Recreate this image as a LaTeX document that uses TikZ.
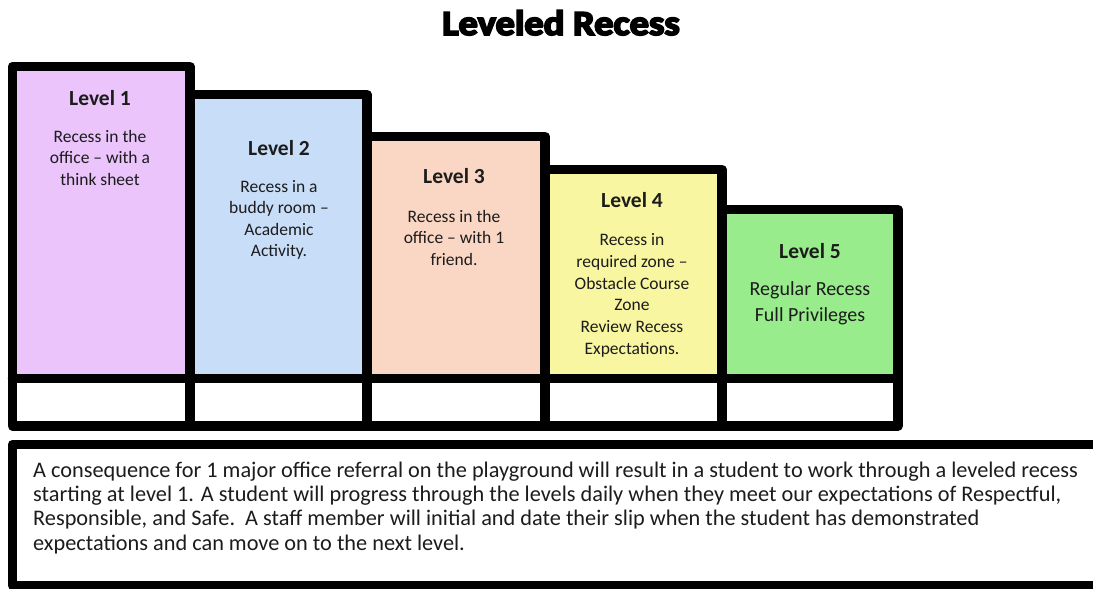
\documentclass[tikz,border=0pt]{standalone}
\usepackage{fontspec}
\setmainfont{Carlito}
\newfontfamily\titlefont[FakeBold=5]{Carlito Bold}
\definecolor{cLone}{RGB}{234,196,250}
\definecolor{cLtwo}{RGB}{200,221,248}
\definecolor{cLthree}{RGB}{250,214,196}
\definecolor{cLfour}{RGB}{248,246,160}
\definecolor{cLfive}{RGB}{152,236,140}
\definecolor{ink}{RGB}{28,28,28}
\tikzset{
  border/.style={draw=black, line width=9.5pt, line join=round, line cap=round},
  head/.style={anchor=base, inner sep=0pt, text=ink, font=\fontsize{21.5}{25}\selectfont\bfseries},
  body/.style={anchor=base, inner sep=0pt, align=center, text=ink, font=\fontsize{17.5}{21.3}\selectfont},
  para/.style={anchor=base west, inner sep=0pt, text=ink, font=\fontsize{22.3}{23.7}\selectfont},
}
\begin{document}
\begin{tikzpicture}[x=1pt,y=-1pt]
\useasboundingbox (0,0) rectangle (1093,589);
\clip (0,0) rectangle (1093,589);
\fill[white] (0,0) rectangle (1093,589);
% title
\node[anchor=base, inner sep=0pt] (title) at (561,35) {\scalebox{1.04}[0.95]{\titlefont\fontsize{37}{40}\selectfont Leveled Recess}};
% coloured fills
\fill[cLone]   (12.5,66.5)  rectangle (190,378.5);
\fill[cLtwo]   (190,94.5)   rectangle (367,378.5);
\fill[cLthree] (367,136.5)  rectangle (545,378.5);
\fill[cLfour]  (545,169.5)  rectangle (722,378.5);
\fill[cLfive]  (722,209.5)  rectangle (898,378.5);
% borders
\draw[border] (12.5,426) rectangle (190,66.5);
\draw[border] (190,426) rectangle (367,94.5);
\draw[border] (367,426) rectangle (545,136.5);
\draw[border] (545,426) rectangle (722,169.5);
\draw[border] (722,426) rectangle (898,209.5);
\draw[border] (12.5,378.5) -- (898,378.5);
% level texts (anchor = baseline of the last line)
\node[head] (h1) at (100,105) {Level 1};
\node[body] (b1) at (100,185.1) {Recess in the\\office – with a\\think sheet};
\node[head] (h2) at (279,155.6) {Level 2};
\node[body] (b2) at (279,256.5) {Recess in a\\buddy room –\\Academic\\Activity.};
\node[head] (h3) at (454,183.6) {Level 3};
\node[body] (b3) at (454,265.2) {Recess in the\\office – with 1\\friend.};
\node[head] (h4) at (632,207.6) {Level 4};
\node[body, font=\fontsize{17.5}{21.7}\selectfont] (b4) at (632,354.1) {Recess in\\required zone –\\Obstacle Course\\Zone\\Review Recess\\Expectations.};
\node[head] (h5) at (810,258.6) {Level 5};
\node[body, font=\fontsize{20}{26}\selectfont] (b5) at (810,321.4) {Regular Recess\\Full Privileges};
% bottom box
\draw[border] (12.5,585.5) rectangle (1120,444.5);
\node[para] (p1) at (33,477.5) {A consequence for 1 major office referral on the playground will result in a student to work through a leveled recess};
\node[para] (p2) at (33,501.7) {starting at level 1. A student will progress through the levels daily when they meet our expectations of Respectful,};
\node[para] (p3) at (33,525.9) {Responsible, and Safe.\ \ A staff member will initial and date their slip when the student has demonstrated};
\node[para] (p4) at (33,550.1) {expectations and can move on to the next level.};
\end{tikzpicture}
\end{document}
